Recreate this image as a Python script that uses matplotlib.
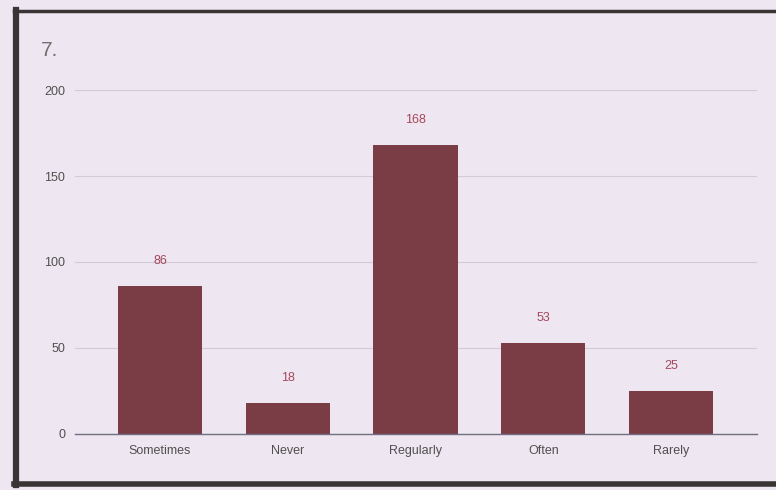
import matplotlib
matplotlib.use("Agg")
import matplotlib.pyplot as plt
from matplotlib.lines import Line2D

categories = ["Sometimes", "Never", "Regularly", "Often", "Rarely"]
values = [86, 18, 168, 53, 25]
yticks = [0, 50, 100, 150, 200]
title = "7."

plt.rcParams["font.family"] = ["Liberation Sans", "DejaVu Sans"]

bg = "#eee6f0"
bar_color = "#7b3d45"
label_color = "#a5485c"
tick_color = "#505050"

fig = plt.figure(figsize=(7.76, 4.90), dpi=100, facecolor=bg)
W, H = 776, 490
ax = fig.add_axes([75 / W, 1 - 434 / H, (757 - 75) / W, (434 - 90) / H])
ax.set_facecolor(bg)

x = list(range(len(categories)))
bars = ax.bar(x, values, width=0.66, color=bar_color, zorder=3)
for xi, v in zip(x, values):
    ax.annotate(str(v), (xi, v), xytext=(0, 18), textcoords="offset points",
                ha="center", va="center", color=label_color, fontsize=9)

ax.set_xlim(-0.665, 4.673)
ax.set_ylim(0, 200)
ax.set_yticks(yticks)
ax.set_yticklabels([str(t) for t in yticks])
ax.set_xticks(x)
ax.set_xticklabels(categories)
ax.tick_params(axis="both", length=0, colors=tick_color, labelsize=9)
ax.tick_params(axis="y", pad=7)
ax.tick_params(axis="x", pad=8)
ax.grid(axis="y", color="#d2cad6", linewidth=0.8, zorder=0)
for s in ["top", "right", "left"]:
    ax.spines[s].set_visible(False)
ax.spines["bottom"].set_color("#707080")
ax.spines["bottom"].set_linewidth(1.0)
ax.spines["bottom"].set_zorder(4)

fig.text(41 / W, 1 - 50 / H, title, fontsize=15, color="#707070", ha="left", va="center")

# photo frame
frame = "#3a3535"
fig.add_artist(Line2D([16 / W, 16 / W], [1 - 10 / H, 1 - 485 / H], color=frame, lw=4.5, transform=fig.transFigure))
fig.add_artist(Line2D([14 / W, 776 / W], [1 - 11 / H, 1 - 11 / H], color=frame, lw=2.5, transform=fig.transFigure))
fig.add_artist(Line2D([14 / W, 776 / W], [1 - 484 / H, 1 - 484 / H], color=frame, lw=4, transform=fig.transFigure))

fig.savefig("out.png", dpi=100, facecolor=bg)
